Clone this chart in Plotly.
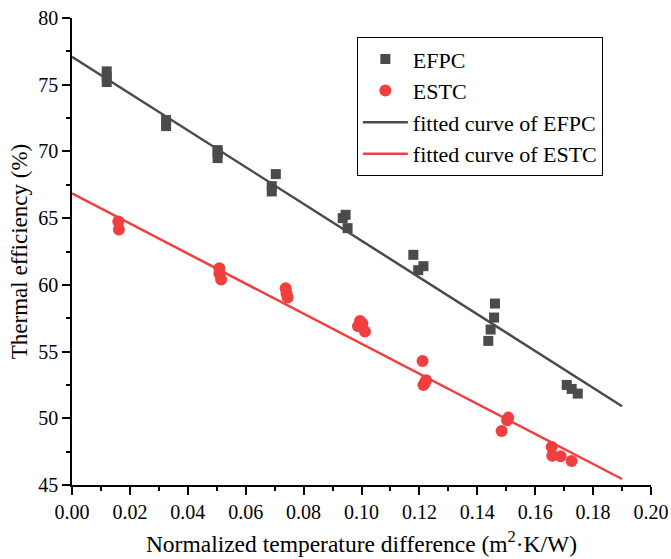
import plotly.graph_objects as go

# EFPC measured points
efpc_x = [0.0120, 0.0120, 0.0120, 0.0325, 0.0325, 0.0503, 0.0503, 0.0503,
          0.0704, 0.0690, 0.0690, 0.0945, 0.0935, 0.0952,
          0.1179, 0.1214, 0.1196, 0.1461, 0.1458, 0.1446, 0.1438,
          0.1709, 0.1726, 0.1747]
efpc_y = [76.0, 75.6, 75.2, 72.35, 71.9, 70.1, 69.9, 69.5,
          68.3, 67.4, 67.0, 65.25, 65.0, 64.25,
          62.25, 61.4, 61.1, 58.6, 57.55, 56.65, 55.8,
          52.5, 52.2, 51.85]

# ESTC measured points
estc_x = [0.0160, 0.0162, 0.0509, 0.0509, 0.0515, 0.0738, 0.0741, 0.0745,
          0.0995, 0.1003, 0.0988, 0.1012, 0.1211, 0.1223, 0.1218, 0.1214,
          0.1507, 0.1503, 0.1484, 0.1657, 0.1659, 0.1688, 0.1726]
estc_y = [64.75, 64.15, 61.25, 60.85, 60.4, 59.75, 59.35, 59.05,
          57.3, 57.1, 56.9, 56.5, 54.3, 52.85, 52.6, 52.5,
          50.05, 49.85, 49.05, 47.85, 47.2, 47.15, 46.8]

# fitted lines
fit_x = [0.0, 0.19]
fit_efpc = [77.1, 50.9]
fit_estc = [66.85, 45.45]

gray = "#4b4b4b"
red = "#f13f3f"
font = "Liberation Serif"

fig = go.Figure()
fig.add_trace(go.Scatter(x=efpc_x, y=efpc_y, mode="markers", name="EFPC",
                         marker=dict(symbol="square", size=10, color=gray)))
fig.add_trace(go.Scatter(x=estc_x, y=estc_y, mode="markers", name="ESTC",
                         marker=dict(symbol="circle", size=12, color=red)))
fig.add_trace(go.Scatter(x=fit_x, y=fit_efpc, mode="lines", name="fitted curve of EFPC",
                         line=dict(color=gray, width=2.5)))
fig.add_trace(go.Scatter(x=fit_x, y=fit_estc, mode="lines", name="fitted curve of ESTC",
                         line=dict(color=red, width=2.5)))

fig.update_layout(
    width=671, height=559,
    margin=dict(l=72, r=20, t=18, b=74),
    paper_bgcolor="white", plot_bgcolor="white",
    font=dict(family=font, color="black", size=20),
    showlegend=True,
    legend=dict(x=0.492, y=0.959, xanchor="left", yanchor="top",
                bordercolor="black", borderwidth=1, bgcolor="white",
                itemwidth=45,
                font=dict(family=font, size=22), tracegroupgap=0),
)
fig.update_xaxes(
    automargin=False,
    range=[0, 0.20], dtick=0.02, tick0=0, tickformat=".2f",
    showline=True, linecolor="black", linewidth=1.5,
    ticks="outside", ticklen=8, tickwidth=1.5, tickcolor="black",
    minor=dict(dtick=0.01, ticks="outside", ticklen=4, tickwidth=1.5, tickcolor="black"),
    showgrid=False, zeroline=False,
    tickfont=dict(family=font, size=20),
    title=dict(text="Normalized temperature difference (m<sup>2</sup>·K/W)",
               font=dict(family=font, size=23.5), standoff=14),
)
fig.update_yaxes(
    automargin=False,
    range=[45, 80], dtick=5, tick0=45,
    showline=True, linecolor="black", linewidth=1.5,
    ticks="outside", ticklen=8, tickwidth=1.5, tickcolor="black",
    minor=dict(dtick=2.5, ticks="outside", ticklen=4, tickwidth=1.5, tickcolor="black"),
    showgrid=False, zeroline=False,
    tickfont=dict(family=font, size=20),
    title=dict(text="Thermal efficiency (%)", font=dict(family=font, size=23), standoff=4),
)

fig.write_html("out.html")
